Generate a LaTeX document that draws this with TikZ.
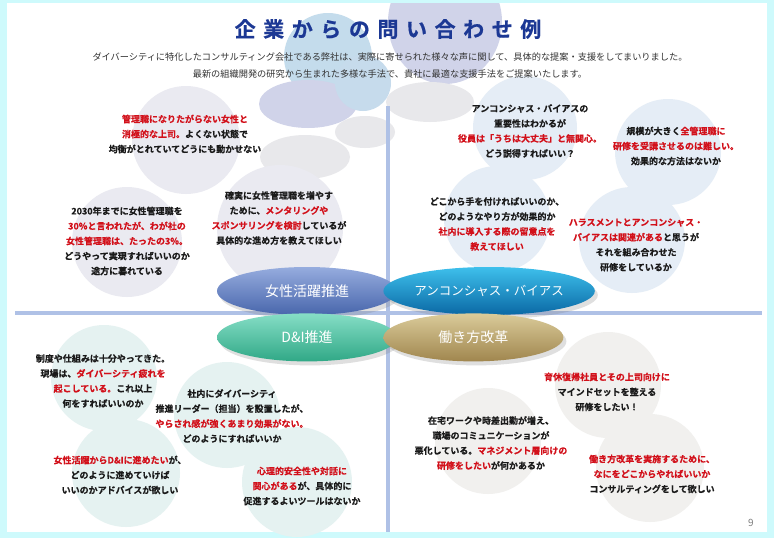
\documentclass[tikz,border=0pt]{standalone}
\usepackage{fontspec}
\setmainfont{Noto Sans CJK JP}[BoldFont={Noto Sans CJK JP Bold}, BoldFeatures={FakeBold=0.5}]
\newfontfamily\titlefont[LetterSpace=36, FakeBold=0.6]{Noto Sans CJK JP Bold}
\usetikzlibrary{positioning,shapes.geometric,shadows}
\definecolor{pageCyan}{RGB}{206,250,252}
\definecolor{axisBlue}{RGB}{175,193,230}
\definecolor{titleBlue}{RGB}{28,56,148}
\definecolor{askRed}{RGB}{210,16,26}
\definecolor{askBlack}{RGB}{26,26,26}
\definecolor{subGray}{RGB}{51,51,51}
\definecolor{bubLav}{RGB}{234,234,241}
\definecolor{bubBlue}{RGB}{229,237,246}
\definecolor{bubTeal}{RGB}{229,242,241}
\definecolor{bubWarm}{RGB}{241,240,238}
\definecolor{decoLav}{RGB}{208,211,233}
\definecolor{decoBlue}{RGB}{196,220,236}
\definecolor{decoGray}{RGB}{232,232,235}
\definecolor{wlTop}{RGB}{150,172,222}
\definecolor{wlBot}{RGB}{72,102,172}
\definecolor{ubTop}{RGB}{62,192,236}
\definecolor{ubBot}{RGB}{10,104,164}
\definecolor{diTop}{RGB}{134,222,198}
\definecolor{diBot}{RGB}{48,168,134}
\definecolor{wrTop}{RGB}{218,203,154}
\definecolor{wrBot}{RGB}{160,134,78}
\tikzset{
  bubble/.style={circle, draw=none, inner sep=0pt},
  lavbubble/.style={bubble, fill=bubLav},
  bluebubble/.style={bubble, fill=bubBlue},
  tealbubble/.style={bubble, fill=bubTeal},
  warmbubble/.style={bubble, fill=bubWarm},
  ask/.style={align=center, text=askBlack, inner sep=0pt,
              font=\bfseries\fontsize{9}{15}\selectfont},
  theme/.style={ellipse, minimum width=180pt, minimum height=48pt, inner sep=0pt,
                text=white, font=\fontsize{14}{16}\selectfont,
                drop shadow={shadow xshift=3pt, shadow yshift=-4pt, opacity=0.25}},
  fadeblob/.style={fill=decoGray}
}
\newcommand{\askred}[1]{\textcolor{askRed}{#1}}
\begin{document}
\begin{tikzpicture}[x=1pt, y=-1pt]
\useasboundingbox (0,0) rectangle (774,538);
\fill[pageCyan] (0,0) rectangle (774,538);
\fill[white] (7,3) rectangle (767,532);
% decoration behind the title
\begin{scope}
\clip (7,3) rectangle (767,532);
\fill[decoLav] (445,22) ellipse [x radius=57, y radius=62];
\fill[fadeblob] (430,102) ellipse [x radius=44, y radius=20];
\fill[decoBlue] (328,57) circle [radius=44];
\fill[decoLav] (308,104) ellipse [x radius=49, y radius=24];
\fill[decoBlue!85!decoLav] (363,83) circle [radius=28];
\fill[fadeblob] (365,132) ellipse [x radius=30, y radius=16];
\fill[fadeblob] (305,157) ellipse [x radius=45, y radius=22];
\end{scope}
% bubbles
\node[lavbubble, minimum size=108pt] (bWlUpper) at (186,140) {};
\node[lavbubble, minimum size=110pt] (bWl2030) at (127,242) {};
\node[lavbubble, minimum size=126pt] (bWlMentor) at (280,228) {};
\node[bluebubble, minimum size=104pt] (bUbBoard) at (525,128) {};
\node[bluebubble, minimum size=106pt] (bUbScale) at (668,152) {};
\node[bluebubble, minimum size=106pt] (bUbStart) at (497,219) {};
\node[bluebubble, minimum size=106pt] (bUbHarass) at (632,240) {};
\node[tealbubble, minimum size=106pt] (bDiFatigue) at (104,378) {};
\node[tealbubble, minimum size=106pt] (bDiLeader) at (227,415) {};
\node[tealbubble, minimum size=108pt] (bDiShift) at (126,473) {};
\node[tealbubble, minimum size=110pt] (bDiSafety) at (297,482) {};
\node[warmbubble, minimum size=106pt] (bWrReturn) at (608,385) {};
\node[warmbubble, minimum size=106pt] (bWrRemote) at (488,441) {};
\node[warmbubble, minimum size=108pt] (bWrReform) at (650,468) {};
% axes
\coordinate (axW) at (15,313);
\coordinate (axE) at (762,313);
\coordinate (axN) at (388,106);
\coordinate (axS) at (388,532);
\draw[axisBlue, line width=4pt] (axW) -- (axE);
\draw[axisBlue, line width=4pt] (axN) -- (axS);
% title
\node[text=titleBlue, font=\titlefont\fontsize{21}{24}\selectfont] (title) at (388,29) {企業からの問い合わせ例};
\node[text=subGray, align=center, font=\fontsize{9.2}{17}\selectfont] (lead) at (390,66)
  {ダイバーシティに特化したコンサルティング会社である弊社は、実際に寄せられた様々な声に関して、具体的な提案・支援をしてまいりました。\\
   最新の組織開発の研究から生まれた多様な手法で、貴社に最適な支援手法をご提案いたします。};
% themes
\node[theme, top color=wlTop, bottom color=wlBot] (wl) at (307,291) {女性活躍推進};
\node[theme, right=-14pt of wl, top color=ubTop, bottom color=ubBot, font=\fontsize{12.5}{16}\selectfont] (ub) {アンコンシャス・バイアス};
\node[theme, below=-2pt of wl, top color=diTop, bottom color=diBot] (di) {D\&I推進};
\node[theme, right=-14pt of di, top color=wrTop, bottom color=wrBot] (wr) {働き方改革};
% questions
\node[ask] (tWlUpper) at (185,134) {\askred{管理職になりたがらない女性と}\\\askred{消極的な上司。}よくない状態で\\均衡がとれていてどうにも動かせない};
\node[ask] (tWl2030) at (127,241) {2030年までに女性管理職を\\\askred{30\%と言われたが、わが社の}\\\askred{女性管理職は、たったの3\%。}\\どうやって実現すればいいのか\\途方に暮れている};
\node[ask] (tWlMentor) at (279,218) {確実に女性管理職を増やす\\ために、\askred{メンタリングや}\\\askred{スポンサリングを検討}しているが\\具体的な進め方を教えてほしい};
\node[ask] (tUbBoard) at (530,131) {アンコンシャス・バイアスの\\重要性はわかるが\\\askred{役員は「うちは大丈夫」と無関心。}\\どう説得すればいい？};
\node[ask] (tUbScale) at (676,146) {規模が大きく\askred{全管理職に}\\\askred{研修を受講させるのは難しい。}\\効果的な方法はないか};
\node[ask] (tUbStart) at (497,224) {どこから手を付ければいいのか、\\どのようなやり方が効果的か\\\askred{社内に導入する際の留意点を}\\\askred{教えてほしい}};
\node[ask] (tUbHarass) at (636,245) {\askred{ハラスメントとアンコンシャス・}\\\askred{バイアスは関連がある}と思うが\\それを組み合わせた\\研修をしているか};
\node[ask] (tDiFatigue) at (103,381) {制度や仕組みは十分やってきた。\\現場は、\askred{ダイバーシティ疲れを}\\\askred{起こしている。}これ以上\\何をすればいいのか};
\node[ask] (tDiLeader) at (232,416) {社内にダイバーシティ\\推進リーダー（担当）を設置したが、\\\askred{やらされ感が強くあまり効果がない。}\\どのようにすればいいか};
\node[ask] (tDiShift) at (120,475) {\askred{女性活躍からD\&Iに進めたい}が、\\どのように進めていけば\\いいのかアドバイスが欲しい};
\node[ask] (tDiSafety) at (302,486) {\askred{心理的安全性や対話に}\\\askred{関心がある}が、具体的に\\促進するよいツールはないか};
\node[ask] (tWrReturn) at (607,392) {\askred{育休復帰社員とその上司向けに}\\マインドセットを整える\\研修をしたい！};
\node[ask] (tWrRemote) at (491,443) {在宅ワークや時差出勤が増え、\\職場のコミュニケーションが\\悪化している。\askred{マネジメント層向けの}\\\askred{研修をしたい}が何かあるか};
\node[ask] (tWrReform) at (652,474) {\askred{働き方改革を実施するために、}\\\askred{なにをどこからやればいいか}\\コンサルティングをして欲しい};
\node[text=gray, font=\fontsize{10}{12}\selectfont] (pageNo) at (751,523) {9};
\end{tikzpicture}
\end{document}
